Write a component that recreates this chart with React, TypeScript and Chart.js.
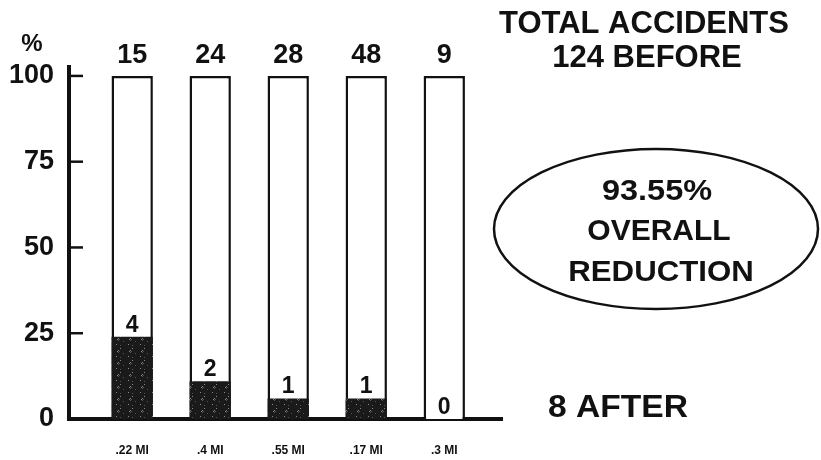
import React, { useEffect, useRef } from 'react';
import { Chart, registerables } from 'chart.js';

Chart.register(...registerables);

const categories = ['.22 MI', '.4 MI', '.55 MI', '.17 MI', '.3 MI'];
const fullPct = [100, 100, 100, 100, 100];
const afterPct = [24, 11, 6, 6, 0];
const beforeCounts = [15, 24, 28, 48, 9];
const afterCounts = [4, 2, 1, 1, 0];
const yTickValues = [0, 25, 50, 75, 100];
const innerTickValues = [25, 50, 75, 100];

const FONT = "'Liberation Sans', Arial, Helvetica, sans-serif";

function drawText(
  ctx: CanvasRenderingContext2D,
  text: string,
  x: number,
  y: number,
  size: number,
  scaleX = 1
) {
  ctx.save();
  ctx.font = `bold ${size}px ${FONT}`;
  ctx.fillStyle = '#111';
  ctx.textAlign = 'center';
  ctx.textBaseline = 'alphabetic';
  ctx.translate(x, y);
  ctx.scale(scaleX, 1);
  ctx.fillText(text, 0, 0);
  ctx.restore();
}

function makeSpeckle(): CanvasPattern | string {
  const c = document.createElement('canvas');
  c.width = 12;
  c.height = 12;
  const g = c.getContext('2d');
  if (!g) return '#1c1c1c';
  g.fillStyle = '#1a1a1a';
  g.fillRect(0, 0, 12, 12);
  for (let i = 0; i < 12; i++) {
    for (let j = 0; j < 12; j++) {
      const h = (i * 37 + j * 91 + i * j * 13) % 29;
      if (h === 0 || h === 7) {
        g.fillStyle = h === 0 ? '#8a8a8a' : '#555';
        g.fillRect(i, j, 1, 1);
      }
    }
  }
  const p = g.createPattern(c, 'repeat');
  return p || '#1c1c1c';
}

const labelsPlugin = {
  id: 'labelsPlugin',
  afterDatasetsDraw(chart: any) {
    const ctx = chart.ctx as CanvasRenderingContext2D;
    const darkMeta = chart.getDatasetMeta(0);
    const fullMeta = chart.getDatasetMeta(1);
    fullMeta.data.forEach((bar: any, i: number) => {
      drawText(ctx, String(beforeCounts[i]), bar.x, bar.y - 13, 27);
    });
    darkMeta.data.forEach((bar: any, i: number) => {
      drawText(ctx, String(afterCounts[i]), bar.x, bar.y - 5, 23);
    });
  },
  afterDraw(chart: any) {
    const ctx = chart.ctx as CanvasRenderingContext2D;
    const y = chart.scales.y;
    const area = chart.chartArea;
    // inward tick marks
    ctx.save();
    ctx.strokeStyle = '#111';
    ctx.lineWidth = 2.5;
    innerTickValues.forEach((v) => {
      const py = y.getPixelForValue(v);
      ctx.beginPath();
      ctx.moveTo(area.left, py);
      ctx.lineTo(area.left + 14, py);
      ctx.stroke();
    });
    ctx.restore();

    // % unit label
    drawText(ctx, '%', 32, 51, 24);

    // right side annotations
    drawText(ctx, 'TOTAL ACCIDENTS', 644, 33, 31);
    drawText(ctx, '124 BEFORE', 647, 67, 31);

    ctx.save();
    ctx.strokeStyle = '#111';
    ctx.lineWidth = 2.5;
    ctx.beginPath();
    ctx.ellipse(656, 229, 162, 80, 0, 0, Math.PI * 2);
    ctx.stroke();
    ctx.restore();

    drawText(ctx, '93.55%', 657, 200, 29, 1.12);
    drawText(ctx, 'OVERALL', 659, 240, 30);
    drawText(ctx, 'REDUCTION', 661, 281, 30, 1.04);

    drawText(ctx, '8 AFTER', 618, 417, 32, 1.05);
  },
};

export default function App() {
  const ref = useRef<HTMLCanvasElement>(null);

  useEffect(() => {
    const canvas = ref.current;
    if (!canvas) return;
    const speckle = makeSpeckle();
    const chart = new Chart(canvas, {
      type: 'bar',
      data: {
        datasets: [
          {
            label: 'After',
            data: categories.map((_, i) => ({ x: i + 1, y: afterPct[i] })),
            backgroundColor: speckle,
            borderWidth: 0,
            grouped: false,
            barPercentage: 0.53,
            categoryPercentage: 1,
          } as any,
          {
            label: 'Before',
            data: categories.map((_, i) => ({ x: i + 1, y: fullPct[i] })),
            backgroundColor: '#ffffff',
            borderColor: '#111',
            borderWidth: 2.5,
            grouped: false,
            barPercentage: 0.53,
            categoryPercentage: 1,
          } as any,
        ],
      },
      options: {
        animation: false,
        responsive: false,
        maintainAspectRatio: false,
        events: [],
        layout: { padding: { left: 0, top: 67, right: 319, bottom: 0 } },
        plugins: {
          legend: { display: false },
          tooltip: { enabled: false },
        },
        scales: {
          x: {
            type: 'linear',
            offset: false,
            min: 0.19,
            max: 5.74,
            grid: { display: false, drawTicks: false, offset: false },
            border: { display: true, color: '#111', width: 4 },
            afterBuildTicks: (s: any) => {
              s.ticks = categories.map((_, i) => ({ value: i + 1 }));
            },
            afterFit: (s: any) => {
              s.height = 41;
            },
            ticks: {
              autoSkip: false,
              maxRotation: 0,
              padding: 24,
              color: '#111',
              font: { family: FONT, size: 12, weight: 'bold' },
              callback: (v: any) => categories[Math.round(Number(v)) - 1] ?? '',
            },
          },
          y: {
            type: 'linear',
            min: 0,
            max: 102.6,
            grid: { display: false, drawTicks: false },
            border: { display: true, color: '#111', width: 4 },
            afterBuildTicks: (s: any) => {
              s.ticks = yTickValues.map((v) => ({ value: v }));
            },
            afterFit: (s: any) => {
              s.width = 69;
            },
            ticks: {
              padding: 15,
              color: '#111',
              font: { family: FONT, size: 27, weight: 'bold' },
            },
          },
        },
      } as any,
      plugins: [labelsPlugin],
    });
    return () => chart.destroy();
  }, []);

  return (
    <div
      style={{
        position: 'fixed',
        left: 0,
        top: 0,
        width: 821,
        height: 460,
        background: '#fff',
      }}
    >
      <canvas ref={ref} width={821} height={460} style={{ display: 'block' }} />
    </div>
  );
}
